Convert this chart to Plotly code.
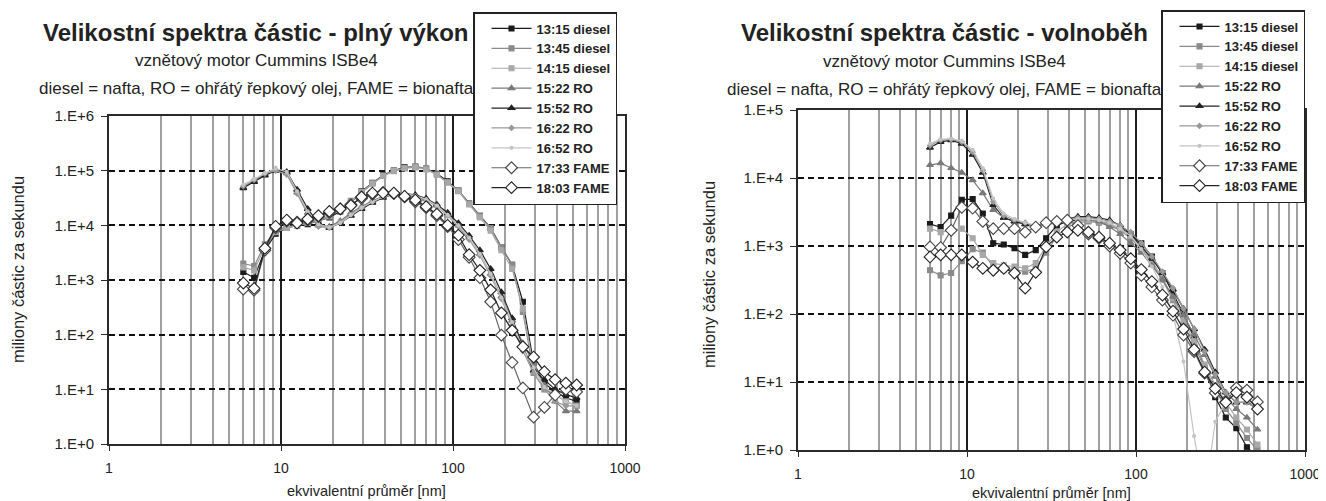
import plotly.graph_objects as go

# page body has an 8px margin, so the figure is 8px smaller and coordinates are shifted
OFF = 8
W, H = 1326 - OFF, 501 - OFF

# EEPS channel mid-points [nm]
diam = [6.04, 6.98, 8.06, 9.31, 10.8, 12.4, 14.3, 16.5, 19.1, 22.1, 25.5, 29.4,
        34.0, 39.2, 45.3, 52.3, 60.4, 69.8, 80.6, 93.1, 107.5, 124.1, 143.3, 165.5,
        191.1, 220.7, 254.8, 294.3, 339.8, 392.4, 453.2, 523.3]

series_names = ["13:15 diesel", "13:45 diesel", "14:15 diesel", "15:22 RO", "15:52 RO",
                "16:22 RO", "16:52 RO", "17:33 FAME", "18:03 FAME"]

# ---- plný výkon (full load) ----
full_13_15 = [1400, 1100, 3500, 7000, 9000, 10000, 10500, 12000, 14000, 18000, 26000, 42000,
              60000, 82000, 100000, 115000, 118000, 108000, 88000, 64000, 43000, 25000, 15000, 9000,
              4000, 1900, 400, 30, 13, 9, 7, 6]
full_13_45 = [2000, 1800, 4500, 8000, 9500, 10000, 11000, 12500, 15000, 20000, 28000, 40000,
              59000, 81000, 100000, 112000, 120000, 110000, 85000, 62000, 44000, 25000, 15000, 8900,
              4000, 1900, 260, 20, 10, 8, 6, 5]
full_14_15 = [1700, 1500, 4000, 7500, 9000, 10000, 11000, 12000, 14500, 19000, 27000, 41000,
              58000, 80000, 98000, 110000, 115000, 105000, 84000, 60000, 42000, 24000, 14000, 8000,
              3500, 1600, 300, 25, 11, 8, 6, 5]
full_15_22 = [50000, 65000, 85000, 105000, 90000, 40000, 17000, 10000, 9500, 12000, 17000, 22000,
              28000, 34000, 38000, 38000, 35000, 30000, 23000, 16000, 10000, 6000, 3000, 1300,
              500, 180, 70, 30, 12, 6, 4, 4]
full_15_52 = [48000, 62000, 82000, 100000, 95000, 45000, 20000, 11000, 9000, 11000, 15000, 20000,
              26000, 32000, 37000, 38000, 36000, 31000, 24000, 17000, 11000, 6500, 3500, 1600,
              600, 200, 60, 22, 15, 10, 8, 7]
full_16_22 = [52000, 68000, 88000, 100000, 85000, 38000, 16000, 9500, 9000, 11500, 16000, 21000,
              27000, 33000, 37000, 37000, 34000, 29000, 22000, 15000, 9500, 5500, 2800, 1200,
              450, 150, 50, 20, 10, 6, 5, 5]
full_16_52 = [55000, 70000, 90000, 110000, 95000, 42000, 18000, 10500, 9200, 11000, 15500, 21000,
              27000, 33000, 37000, 38000, 35000, 30000, 23000, 15500, 10000, 6000, 3000, 1300,
              480, 170, 55, 25, 11, 8, 6, 5]
full_17_33 = [680, 650, 3500, 9000, 12000, 11500, 12500, 14500, 17000, 20000, 24000, 31000,
              37000, 40000, 38000, 33000, 27000, 21000, 15000, 9500, 5500, 2600, 1100, 400,
              98, 31, 10.6, 3.1, 4.7, 7.9, 10, 9]
full_18_03 = [880, 700, 3800, 9600, 12500, 11000, 13000, 15000, 18000, 20000, 23000, 33000,
              39000, 39000, 39000, 34000, 29000, 22000, 16000, 10000, 6600, 2900, 1500, 660,
              250, 120, 60, 39, 21, 15, 13, 12]

# ---- volnoběh (idle) ----
idle_13_15 = [2100, 1900, 2800, 4800, 4900, 3000, 1100, 1050, 930, 740, 870, 1300,
              2000, 2300, 2400, 2400, 2300, 2100, 1800, 1500, 1100, 700, 400, 200,
              100, 45, 16, 6, 3, 2.1, 1.1, 0.8]
idle_13_45 = [440, 370, 400, 600, 900, 800, 500, 450, 450, 420, 470, 800,
              1400, 1900, 2200, 2300, 2200, 2000, 1700, 1300, 900, 550, 320, 160,
              70, 35, 16, 8, 4, 2.5, 1.5, 1.0]
idle_14_15 = [1800, 1600, 1700, 1800, 1300, 740, 560, 520, 500, 470, 560, 1000,
              1600, 2100, 2300, 2400, 2300, 2100, 1800, 1400, 950, 600, 340, 170,
              80, 40, 18, 9, 5, 3, 2, 1.2]
idle_15_22 = [15500, 16500, 14000, 12000, 9300, 6000, 3400, 2600, 2300, 2100, 2000, 2100,
              2300, 2500, 2600, 2500, 2300, 1900, 1500, 1100, 800, 520, 320, 180,
              95, 50, 25, 12, 6, 4, 3, 2]
idle_15_52 = [28000, 34000, 36000, 32000, 22000, 12000, 4000, 2600, 2300, 2100, 2000, 2100,
              2200, 2500, 2700, 2700, 2600, 2400, 2000, 1500, 1000, 650, 400, 230,
              120, 60, 30, 14, 7, 5, 5, 4]
idle_16_22 = [30000, 36000, 37000, 34000, 24000, 13000, 4500, 2800, 2400, 2200, 2000, 2100,
              2300, 2500, 2600, 2600, 2500, 2300, 2000, 1600, 1100, 700, 420, 240,
              120, 60, 28, 13, 7, 5, 5, 4]
idle_16_52 = [32000, 37000, 38000, 35000, 26000, 14000, 5000, 3000, 2500, 2200, 2000, 2000,
              2200, 2400, 2500, 2500, 2400, 2200, 1800, 1400, 900, 500, 250, 100,
              20, 1.6, 0.2, 2.6, 5, 7, 6, 5]
idle_17_33 = [970, 950, 1700, 3700, 3600, 2300, 1800, 1800, 1800, 1600, 1900, 2200,
              2300, 2400, 2000, 1500, 1300, 1000, 780, 560, 370, 250, 160, 96,
              49, 28, 13.5, 6.9, 5.1, 8.2, 7.6, 5.1]
idle_18_03 = [690, 740, 740, 740, 580, 470, 440, 470, 400, 240, 410, 970,
              1350, 1600, 1700, 1600, 1350, 1100, 870, 650, 450, 300, 190, 110,
              60, 30, 14, 8, 5, 7, 6, 4]

full_data = [full_13_15, full_13_45, full_14_15, full_15_22, full_15_52,
             full_16_22, full_16_52, full_17_33, full_18_03]
idle_data = [idle_13_15, idle_13_45, idle_14_15, idle_15_22, idle_15_52,
             idle_16_22, idle_16_52, idle_17_33, idle_18_03]

y_tick_vals_full = [1, 10, 100, 1e3, 1e4, 1e5, 1e6]
y_tick_text_full = ["1.E+0", "1.E+1", "1.E+2", "1.E+3", "1.E+4", "1.E+5", "1.E+6"]
y_tick_vals_idle = [1, 10, 100, 1e3, 1e4, 1e5]
y_tick_text_idle = ["1.E+0", "1.E+1", "1.E+2", "1.E+3", "1.E+4", "1.E+5"]
x_tick_vals = [1, 10, 100, 1000]
x_tick_text = ["1", "10", "100", "1000"]

titles = ["Velikostní spektra částic - plný výkon", "Velikostní spektra částic - volnoběh"]
subtitle = "vznětový motor Cummins ISBe4"
note = "diesel = nafta, RO = ohřátý řepkový olej, FAME = bionafta"
y_title = "miliony částic za sekundu"
x_title = "ekvivalentní průměr [nm]"

styles = [
    dict(lc="#1a1a1a", sym="square", size=5, fill="#1a1a1a", ml="#1a1a1a"),
    dict(lc="#8a8a8a", sym="square", size=5, fill="#8a8a8a", ml="#8a8a8a"),
    dict(lc="#a8a8a8", sym="square", size=5, fill="#a8a8a8", ml="#a8a8a8"),
    dict(lc="#7a7a7a", sym="triangle-up", size=6, fill="#7a7a7a", ml="#7a7a7a"),
    dict(lc="#222222", sym="triangle-up", size=6, fill="#222222", ml="#222222"),
    dict(lc="#999999", sym="diamond", size=4, fill="#999999", ml="#999999"),
    dict(lc="#c4c4c4", sym="circle", size=3, fill="#c4c4c4", ml="#c4c4c4"),
    dict(lc="#666666", sym="diamond", size=9, fill="white", ml="#444444"),
    dict(lc="#222222", sym="diamond", size=9, fill="white", ml="#222222"),
]

FONT = "Liberation Sans, Arial, sans-serif"
TXT = "#222222"

fig = go.Figure()
for panel, data, xa, ya, lg in [(0, full_data, "x", "y", "legend"),
                                (1, idle_data, "x2", "y2", "legend2")]:
    for k, (name, st) in enumerate(zip(series_names, styles)):
        fig.add_trace(go.Scatter(
            x=diam, y=data[k], xaxis=xa, yaxis=ya, legend=lg,
            mode="lines+markers", name=name,
            line=dict(color=st["lc"], width=1.2),
            marker=dict(symbol=st["sym"], size=st["size"], color=st["fill"],
                        line=dict(color=st["ml"], width=1.1))))


def px(x):
    return (x - OFF) / W


def py(y):
    return 1 - (y - OFF) / H


xaxis_common = dict(type="log", range=[0, 3], tickvals=x_tick_vals, ticktext=x_tick_text,
                    showgrid=True, gridcolor="#1e1e1e", gridwidth=1.5,
                    minor=dict(dtick="D1", showgrid=True, gridcolor="#a0a0a0", gridwidth=1.5,
                               ticks=""),
                    showline=True, linecolor="#2a2a2a", linewidth=1.8, mirror=True,
                    ticks="outside", ticklen=5, tickcolor="#2a2a2a", tickwidth=1.2,
                    tickfont=dict(family=FONT, size=14, color=TXT),
                    ticklabelstandoff=5, zeroline=False, automargin=False)
yaxis_common = dict(type="log", showgrid=True, gridcolor="#111111", gridwidth=1.6,
                    griddash="6px,4px",
                    showline=True, linecolor="#2a2a2a", linewidth=1.8, mirror=True,
                    ticks="outside", ticklen=6, tickcolor="#2a2a2a", tickwidth=1.2,
                    tickfont=dict(family=FONT, size=15, color=TXT),
                    ticklabelstandoff=4, zeroline=False, automargin=False)

legend_common = dict(bgcolor="white", bordercolor="#222222", borderwidth=1.5,
                     font=dict(family=FONT, size=13, color=TXT, weight="bold"),
                     xanchor="left", yanchor="top", tracegroupgap=0, itemwidth=40,
                     indentation=12)

fig.update_layout(
    width=W, height=H,
    margin=dict(l=0, r=0, t=0, b=0, autoexpand=False),
    paper_bgcolor="white", plot_bgcolor="white",
    xaxis=dict(domain=[px(109), px(625)], anchor="y", **xaxis_common),
    yaxis=dict(domain=[py(444), py(116)], anchor="x", range=[0, 6],
               tickvals=y_tick_vals_full, ticktext=y_tick_text_full, **yaxis_common),
    xaxis2=dict(domain=[px(798), px(1305)], anchor="y2", **xaxis_common),
    yaxis2=dict(domain=[py(450), py(110)], anchor="x2", range=[0, 5],
                tickvals=y_tick_vals_idle, ticktext=y_tick_text_idle, **yaxis_common),
    legend=dict(x=px(473), y=py(12), **legend_common),
    legend2=dict(x=px(1161), y=py(10), **legend_common),
    showlegend=True,
)

ann = []
for cx, ty, sy, ny, t, xt_c, xt_y, yt_x, yt_y in [
    (256, 33, 60, 88, titles[0], 367, 491, 18, 270),
    (944, 32, 62, 89, titles[1], 1051, 493, 709, 275),
]:
    ann.append(dict(text="<b>" + t + "</b>", x=px(cx), y=py(ty), xref="paper", yref="paper",
                    showarrow=False, xanchor="center", yanchor="middle",
                    font=dict(family=FONT, size=24, color=TXT)))
    ann.append(dict(text=subtitle, x=px(cx), y=py(sy), xref="paper", yref="paper",
                    showarrow=False, xanchor="center", yanchor="middle",
                    font=dict(family=FONT, size=17, color=TXT)))
    ann.append(dict(text=note, x=px(cx), y=py(ny), xref="paper", yref="paper",
                    showarrow=False, xanchor="center", yanchor="middle",
                    font=dict(family=FONT, size=17, color=TXT)))
    ann.append(dict(text=x_title, x=px(xt_c), y=py(xt_y), xref="paper", yref="paper",
                    showarrow=False, xanchor="center", yanchor="middle",
                    font=dict(family=FONT, size=14.5, color=TXT)))
    ann.append(dict(text=y_title, x=px(yt_x), y=py(yt_y), xref="paper", yref="paper",
                    showarrow=False, xanchor="center", yanchor="middle", textangle=-90,
                    font=dict(family=FONT, size=16.5, color=TXT)))
fig.update_layout(annotations=ann)

fig.write_html("out.html")
